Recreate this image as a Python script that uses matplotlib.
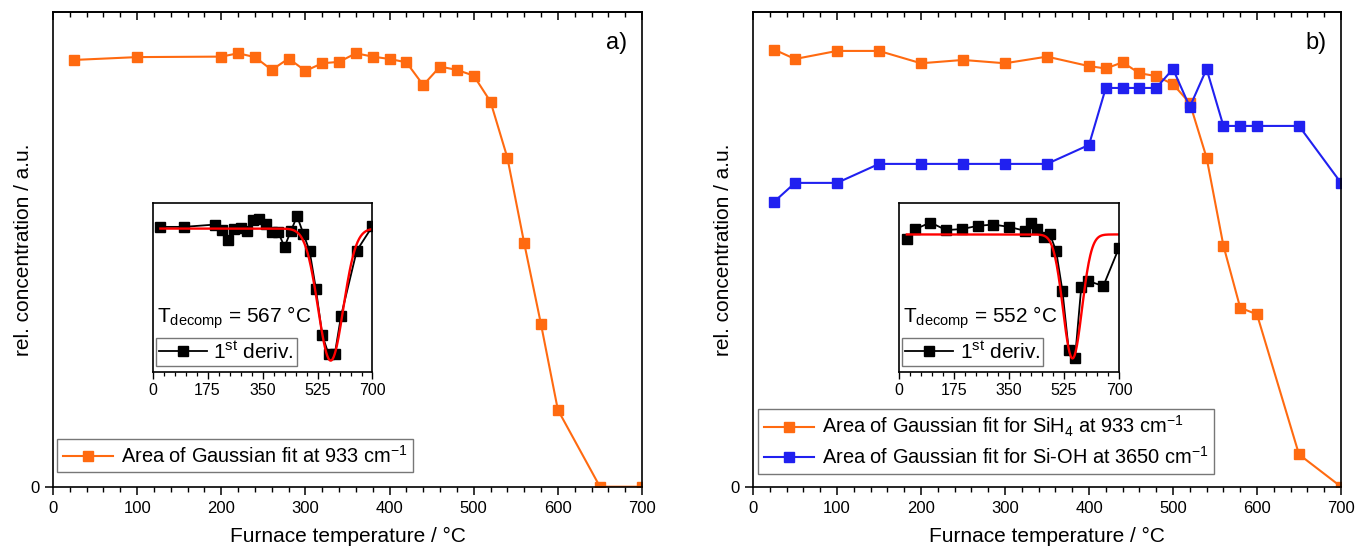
import matplotlib.pyplot as plt
import numpy as np
from matplotlib.ticker import MultipleLocator

plt.rcParams.update({
    "font.family": ["Liberation Sans", "DejaVu Sans"],
    "mathtext.default": "regular",
    "axes.linewidth": 1.2,
    "legend.fancybox": False,
    "legend.edgecolor": "#777777",
    "legend.framealpha": 1.0,
})

ORANGE = "#ff6a10"
BLUE = "#2020f0"
RED = "#ff0000"

# panel a: SiH4 band only
temp_a = [25, 100, 200, 220, 240, 260, 280, 300, 320, 340, 360, 380, 400,
          420, 440, 460, 480, 500, 520, 540, 560, 580, 600, 650, 700]
area_a = [0.899, 0.905, 0.906, 0.913, 0.905, 0.878, 0.902, 0.876, 0.892, 0.895,
          0.913, 0.906, 0.901, 0.894, 0.846, 0.885, 0.878, 0.866, 0.811, 0.693,
          0.513, 0.342, 0.162, 0.0, 0.0]
deriv_a = [0.861, 0.861, 0.875, 0.845, 0.785, 0.849, 0.855, 0.835, 0.901, 0.909,
           0.881, 0.829, 0.829, 0.742, 0.835, 0.924, 0.821, 0.716, 0.491, 0.219,
           0.105, 0.105, 0.332, 0.720, 0.865]
tdecomp_a = 567
fit_a = (0.851, 0.785, 40.0)  # baseline, depth, sigma

# panel b: SiH4 and Si-OH bands
temp_b = [25, 50, 100, 150, 200, 250, 300, 350, 400, 420, 440, 460, 480,
          500, 520, 540, 560, 580, 600, 650, 700]
area_sih4 = [0.921, 0.901, 0.918, 0.918, 0.892, 0.899, 0.892, 0.906, 0.886, 0.881,
             0.894, 0.871, 0.865, 0.848, 0.808, 0.693, 0.508, 0.377, 0.363, 0.068, 0.0]
area_sioh = [0.600, 0.640, 0.640, 0.680, 0.680, 0.680, 0.680, 0.680, 0.720, 0.840,
             0.840, 0.840, 0.840, 0.880, 0.800, 0.880, 0.760, 0.760, 0.760, 0.760, 0.640]
deriv_b = [0.786, 0.846, 0.887, 0.842, 0.848, 0.867, 0.875, 0.861, 0.838, 0.885,
           0.846, 0.802, 0.818, 0.717, 0.481, 0.129, 0.079, 0.505, 0.541, 0.509, 0.737]
tdecomp_b = 552
fit_b = (0.816, 0.737, 30.0)

xticks_main = [0, 100, 200, 300, 400, 500, 600, 700]
xticks_inset = [0, 175, 350, 525, 700]

W, H = 1357, 550


def rect(x0, y0, x1, y1):
    return [x0 / W, 1 - y1 / H, (x1 - x0) / W, (y1 - y0) / H]


def style_main(ax):
    ax.set_xlim(0, 700)
    ax.set_ylim(0, 1)
    ax.set_xticks(xticks_main)
    ax.xaxis.set_minor_locator(MultipleLocator(20))
    ax.set_yticks([0])
    ax.tick_params(axis="x", which="major", direction="out", length=6, width=1.1,
                   labelsize=12, pad=4)
    ax.tick_params(axis="x", which="minor", direction="out", length=3.5, width=1.0)
    ax.tick_params(axis="y", direction="out", length=6, width=1.1, labelsize=12)
    top = ax.secondary_xaxis("top")
    top.set_xticks(xticks_main)
    top.xaxis.set_minor_locator(MultipleLocator(20))
    top.tick_params(which="major", direction="in", length=6, width=1.1, labeltop=False)
    top.tick_params(which="minor", direction="in", length=3.5, width=1.0)
    ax.set_xlabel("Furnace temperature / °C", fontsize=15, labelpad=8)
    ax.set_ylabel("rel. concentration / a.u.", fontsize=15, labelpad=-2)


def draw_inset(fig, r, temp, deriv, tdec, fit):
    ins = fig.add_axes(r)
    ins.plot(temp, deriv, color="black", lw=1.3, marker="s", ms=6.5, mec="black",
             label="1$^{st}$ deriv.")
    base, depth, sigma = fit
    tt = np.linspace(temp[0], temp[-1], 400)
    ins.plot(tt, base - depth * np.exp(-(tt - tdec) ** 2 / (2 * sigma ** 2)),
             color=RED, lw=1.7)
    ins.set_xlim(0, 700)
    ins.set_ylim(0, 1)
    ins.set_xticks(xticks_inset)
    ins.xaxis.set_minor_locator(MultipleLocator(35))
    ins.set_yticks([])
    ins.tick_params(axis="x", which="major", direction="out", length=5, width=1.0,
                    labelsize=11.5, pad=3)
    ins.tick_params(axis="x", which="minor", direction="out", length=3, width=0.9)
    ins.text(0.02, 0.29, "T$_{decomp}$ = %d °C" % tdec, transform=ins.transAxes,
             fontsize=15, ha="left", va="baseline")
    ins.legend(loc="lower left", bbox_to_anchor=(0.015, 0.035), borderaxespad=0,
               fontsize=15, handlelength=2.3, handletextpad=0.3, borderpad=0.15,
               labelspacing=0.2)
    return ins


fig = plt.figure(figsize=(W / 100, H / 100), dpi=100)

ax_a = fig.add_axes(rect(53, 12, 642, 486.7))
ax_a.plot(temp_a, area_a, color=ORANGE, lw=1.5, marker="s", ms=7.5, mec=ORANGE,
          label="Area of Gaussian fit at 933 cm$^{-1}$")
style_main(ax_a)
ax_a.text(0.975, 0.935, "a)", transform=ax_a.transAxes, fontsize=17, ha="right", va="center")
ax_a.legend(loc="lower left", bbox_to_anchor=(0.007, 0.03), borderaxespad=0,
            fontsize=14.4, handlelength=2.5, handletextpad=0.4, borderpad=0.28)
draw_inset(fig, rect(152.5, 203.5, 372.5, 371.7), temp_a, deriv_a, tdecomp_a, fit_a)

ax_b = fig.add_axes(rect(753, 12, 1341, 486.7))
ax_b.plot(temp_b, area_sih4, color=ORANGE, lw=1.5, marker="s", ms=7.5, mec=ORANGE,
          label="Area of Gaussian fit for SiH$_4$ at 933 cm$^{-1}$")
ax_b.plot(temp_b, area_sioh, color=BLUE, lw=1.5, marker="s", ms=7.5, mec=BLUE,
          label="Area of Gaussian fit for Si-OH at 3650 cm$^{-1}$")
style_main(ax_b)
ax_b.text(0.975, 0.935, "b)", transform=ax_b.transAxes, fontsize=17, ha="right", va="center")
ax_b.legend(loc="lower left", bbox_to_anchor=(0.0085, 0.027), borderaxespad=0,
            fontsize=14.4, handlelength=2.5, handletextpad=0.4, borderpad=0.28,
            labelspacing=0.35)
draw_inset(fig, rect(899, 203.5, 1119, 371.7), temp_b, deriv_b, tdecomp_b, fit_b)

fig.savefig("out.png", dpi=100)
